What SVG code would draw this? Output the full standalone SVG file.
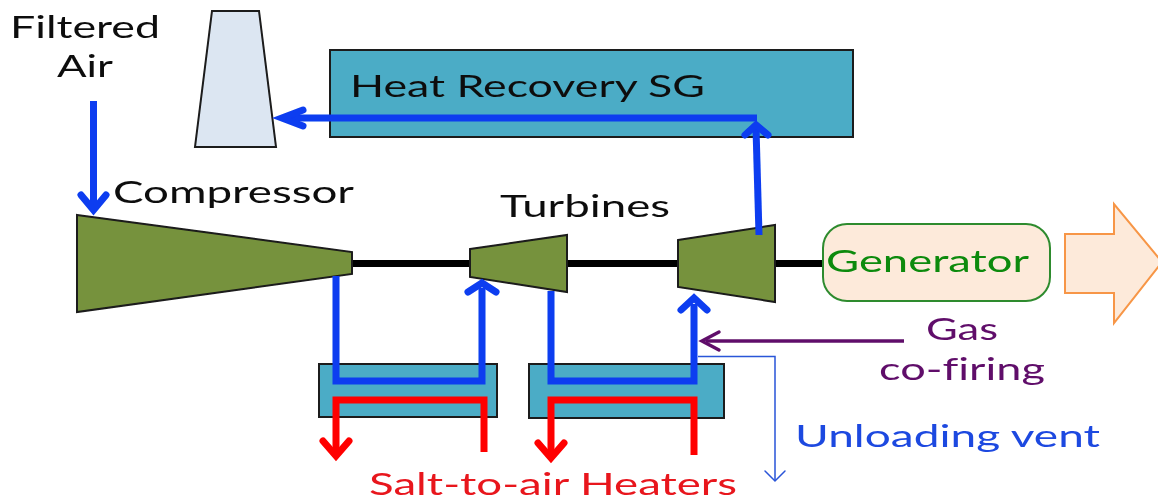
<svg xmlns="http://www.w3.org/2000/svg" width="1158" height="500" viewBox="0 0 1158 500">
<style>
text{font-family:Lato,"Open Sans",sans-serif;font-size:31px;fill:#111;text-anchor:start;font-variant-ligatures:none}
.dark{stroke:#1a1a1a;stroke-width:2}
.olive{fill:#76923c}
.teal{fill:#4bacc6}
.b{fill:none;stroke:#0a3cf0;stroke-width:7}
.r{fill:none;stroke:#ff0000;stroke-width:7}
.h{fill:none;stroke-linecap:round;stroke-linejoin:miter}
</style>
<defs><filter id="soft" x="-2%" y="-2%" width="104%" height="104%"><feGaussianBlur stdDeviation="0.5"/></filter></defs>
<g filter="url(#soft)">
<g id="stack"><polygon class="dark" fill="#dce6f2" points="212,11 259,11 276,147 195,147"/></g>
<g id="hrsg"><rect class="dark teal" x="330" y="50" width="523" height="87"/><text x="350" y="97" textLength="355" lengthAdjust="spacingAndGlyphs">Heat Recovery SG</text></g>
<g id="heater1"><rect class="dark teal" x="319" y="364" width="178" height="53"/></g>
<g id="heater2"><rect class="dark teal" x="529" y="364" width="195" height="54"/></g>
<g id="shaft"><path d="M352 263.500H826" stroke="#000" stroke-width="7" fill="none"/></g>
<g id="compressor"><polygon class="dark olive" points="77,215 352,252 352,274 77,312"/><text x="113" y="203" textLength="241" lengthAdjust="spacingAndGlyphs">Compressor</text></g>
<g id="turbine1"><polygon class="dark olive" points="470,249 567,235 567,292 470,277"/><text x="500" y="217" textLength="170" lengthAdjust="spacingAndGlyphs">Turbines</text></g>
<g id="turbine2"><polygon class="dark olive" points="678,240 775,225 775,302 678,287"/></g>
<g id="generator"><rect x="823" y="224" width="227" height="77" rx="24" fill="#fdeada" stroke="#2e8b2e" stroke-width="2"/><text x="826" y="272" textLength="203" lengthAdjust="spacingAndGlyphs" style="fill:#0a8a0a">Generator</text></g>
<g id="output"><polygon fill="#fdeada" stroke="#f79646" stroke-width="2" points="1065,234 1114,234 1114,204 1162,262 1114,323 1114,293 1065,293"/></g>
<g id="connectors">
<path class="b" d="M93.500 101V208"/><path class="b h" d="M81 195L93.500 210L106 195"/>
<path class="b" d="M759 235L756 128"/><path class="b h" d="M745 135L756 125L768 135"/>
<path class="b" d="M757 118H284"/><path class="b h" d="M303 110L282 118L303 126"/>
<path class="b" d="M336 276V381H482V288"/><path class="b h" d="M468 292L482 283L496 292"/>
<path class="b" d="M551 291V381H694V304"/><path class="b h" d="M681 310L694 298L707 310"/>
<path class="r" d="M484 452V400H336V454"/><path class="r h" d="M323 441L336 456L349 441"/>
<path class="r" d="M694 455V400H551V456"/><path class="r h" d="M538 443L551 458L564 443"/>
<path d="M904 341H706" fill="none" stroke="#60106a" stroke-width="3.500"/><path class="h" d="M719 332L702 341L719 350" stroke="#60106a" stroke-width="3.500"/>
<path d="M698 356.500H775V480" fill="none" stroke="#2a55d8" stroke-width="1.500"/><path class="h" d="M765 471L775 481L785 471" stroke="#2a55d8" stroke-width="1.500"/>
</g>
<g id="labels">
<text x="10" y="38" textLength="150" lengthAdjust="spacingAndGlyphs">Filtered</text>
<text x="57" y="77" textLength="56" lengthAdjust="spacingAndGlyphs">Air</text>
<text x="926" y="340" textLength="72" lengthAdjust="spacingAndGlyphs" style="fill:#60106a">Gas</text>
<text x="879" y="380" textLength="166" lengthAdjust="spacingAndGlyphs" style="fill:#60106a">co-firing</text>
<text x="795" y="447" textLength="305" lengthAdjust="spacingAndGlyphs" style="fill:#1f48e0">Unloading vent</text>
<text x="369" y="495" textLength="368" lengthAdjust="spacingAndGlyphs" style="fill:#e8141c">Salt-to-air Heaters</text>
</g>
</g>
</svg>
